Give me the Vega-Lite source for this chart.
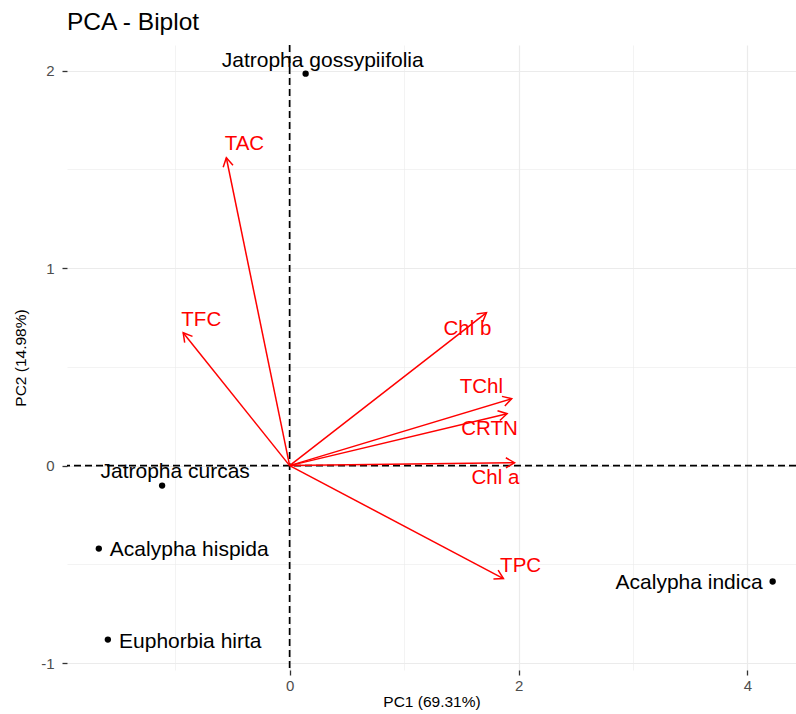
{
  "$schema": "https://vega.github.io/schema/vega-lite/v6.json",
  "width": 729,
  "height": 625,
  "autosize": "none",
  "padding": {"left": 67, "top": 45, "right": 0, "bottom": 44},
  "background": "white",
  "title": {"text": "PCA - Biplot", "anchor": "start", "frame": "group", "fontSize": 24.5, "fontWeight": "normal", "font": "Liberation Sans", "color": "black", "offset": 9, "dx": 0},
  "config": {
    "view": {"stroke": null},
    "font": "Liberation Sans",
    "axis": {
      "domain": false,
      "gridColor": "#ebebeb",
      "tickColor": "#333333",
      "labelColor": "#4d4d4d",
      "labelFontSize": 15,
      "labelFont": "Liberation Sans",
      "titleFont": "Liberation Sans",
      "titleFontSize": 15.5,
      "titleFontWeight": "normal",
      "titleColor": "black",
      "tickSize": 5,
      "tickWidth": 1.3
    }
  },
  "datasets": {
    "ind": [
      {"name": "Jatropha gossypiifolia", "x": 0.14, "y": 1.985, "lx": 0.289, "ly": 2.051},
      {"name": "Jatropha curcas", "x": -1.114, "y": -0.101, "lx": -1.0, "ly": -0.03},
      {"name": "Acalypha hispida", "x": -1.667, "y": -0.42, "lx": -0.877, "ly": -0.425},
      {"name": "Euphorbia hirta", "x": -1.588, "y": -0.881, "lx": -0.868, "ly": -0.891},
      {"name": "Acalypha indica", "x": 4.22, "y": -0.587, "lx": 3.49, "ly": -0.592}
    ],
    "var": [
      {"name": "TAC", "x": -0.553, "y": 1.559, "lx": -0.395, "ly": 1.63},
      {"name": "TFC", "x": -0.93, "y": 0.673, "lx": -0.772, "ly": 0.739},
      {"name": "Chl b", "x": 1.72, "y": 0.775, "lx": 1.553, "ly": 0.694},
      {"name": "TChl", "x": 1.94, "y": 0.339, "lx": 1.675, "ly": 0.4},
      {"name": "CRTN", "x": 1.9, "y": 0.263, "lx": 1.746, "ly": 0.187},
      {"name": "Chl a", "x": 1.965, "y": 0.015, "lx": 1.798, "ly": -0.061},
      {"name": "TPC", "x": 1.868, "y": -0.572, "lx": 2.018, "ly": -0.506}
    ]
  },
  "layer": [
    {
      "data": {"name": "ind"},
      "mark": {"type": "point", "filled": true, "color": "black", "size": 40, "opacity": 1},
      "encoding": {
        "x": {"field": "x", "type": "quantitative",
          "scale": {"domain": [-1.945, 4.424], "nice": false, "zero": false},
          "axis": {"title": "PC1 (69.31%)", "values": [-1, 0, 1, 2, 3, 4],
            "labelExpr": "datum.value % 2 === 0 ? '' + datum.value : ''",
            "gridWidth": {"condition": {"test": "datum.value % 2 !== 0", "value": 0.6}, "value": 1.2},
            "tickOpacity": {"condition": {"test": "datum.value % 2 !== 0", "value": 0}, "value": 1},
            "labelPadding": 3, "titlePadding": 1}},
        "y": {"field": "y", "type": "quantitative",
          "scale": {"domain": [-1.035, 2.13], "nice": false, "zero": false},
          "axis": {"title": "PC2 (14.98%)", "values": [-1, -0.5, 0, 0.5, 1, 1.5, 2],
            "labelExpr": "datum.value % 1 === 0 ? '' + datum.value : ''",
            "gridWidth": {"condition": {"test": "datum.value % 1 !== 0", "value": 0.6}, "value": 1.2},
            "tickOpacity": {"condition": {"test": "datum.value % 1 !== 0", "value": 0}, "value": 1},
            "labelPadding": 8, "titlePadding": 12}}
      }
    },
    {
      "data": {"values": [{"v": 0}]},
      "mark": {"type": "rule", "color": "black", "strokeWidth": 1.7, "strokeDash": [7, 4]},
      "encoding": {"x": {"field": "v", "type": "quantitative"}}
    },
    {
      "data": {"values": [{"v": 0}]},
      "mark": {"type": "rule", "color": "black", "strokeWidth": 1.7, "strokeDash": [7, 4]},
      "encoding": {"y": {"field": "v", "type": "quantitative"}}
    },
    {
      "data": {"name": "var"},
      "mark": {"type": "rule", "color": "red", "strokeWidth": 1.5},
      "encoding": {
        "x": {"field": "x", "type": "quantitative"},
        "y": {"field": "y", "type": "quantitative"},
        "x2": {"datum": 0},
        "y2": {"datum": 0}
      }
    },
    {
      "data": {"name": "var"},
      "transform": [{"calculate": "atan2(datum.x * 114.4, datum.y * 197.4) * 180 / PI", "as": "ang"}],
      "mark": {"type": "point", "shape": "M-0.5,0.866 L0,0 L0.5,0.866", "filled": false, "stroke": "red", "strokeWidth": 1.5, "size": 400, "opacity": 1},
      "encoding": {
        "x": {"field": "x", "type": "quantitative"},
        "y": {"field": "y", "type": "quantitative"},
        "angle": {"field": "ang", "type": "quantitative", "scale": null}
      }
    },
    {
      "data": {"name": "ind"},
      "mark": {"type": "text", "color": "black", "fontSize": 21, "font": "Liberation Sans", "align": "center", "baseline": "middle"},
      "encoding": {
        "x": {"field": "lx", "type": "quantitative"},
        "y": {"field": "ly", "type": "quantitative"},
        "text": {"field": "name"}
      }
    },
    {
      "data": {"name": "var"},
      "mark": {"type": "text", "color": "red", "fontSize": 20.5, "font": "Liberation Sans", "align": "center", "baseline": "middle"},
      "encoding": {
        "x": {"field": "lx", "type": "quantitative"},
        "y": {"field": "ly", "type": "quantitative"},
        "text": {"field": "name"}
      }
    }
  ]
}
